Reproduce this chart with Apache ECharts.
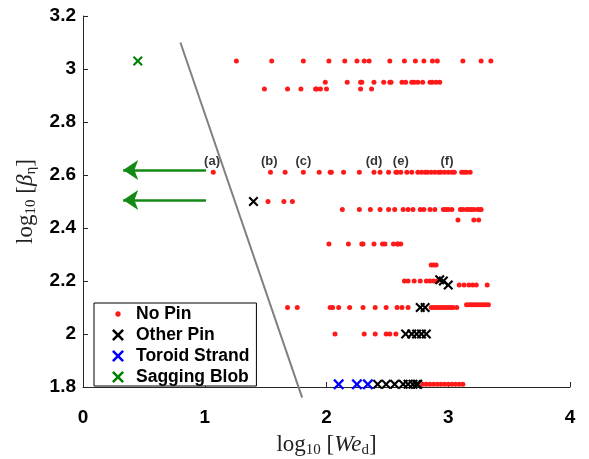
<!DOCTYPE html>
<html>
<head>
<meta charset="utf-8">
<script src="https://cdn.jsdelivr.net/npm/echarts@6/dist/echarts.min.js"></script>
<style>
  html, body { margin: 0; padding: 0; background: #fff; }
  #chart { width: 589px; height: 459px; }
</style>
</head>
<body>
<div id="chart"></div>
<script>
// rows of "No Pin" points: [log10 beta, [log10 We ...]]
const noPinRows = [
  [3.03, [1.26, 1.55, 1.81, 2.02, 2.15, 2.25, 2.31, 2.35, 2.52, 2.64, 2.73, 2.80, 2.87, 2.91, 3.12, 3.27, 3.35]],
  [2.95, [1.99, 2.17, 2.28, 2.29, 2.39, 2.47, 2.52, 2.53, 2.62, 2.65, 2.70, 2.72, 2.75, 2.79, 2.85, 2.87, 2.90, 2.93]],
  [2.925, [1.49, 1.68, 1.79, 1.91, 1.92, 1.95, 2.00, 2.28, 2.37]],
  [2.61, [1.07, 1.54, 1.66, 1.81, 1.94, 2.03, 2.04, 2.14, 2.27, 2.39, 2.44, 2.51, 2.57, 2.58, 2.61, 2.66, 2.70, 2.75, 2.78, 2.81, 2.83, 2.86, 2.89, 2.92, 2.94, 2.97, 3.00, 3.03, 3.05, 3.11, 3.13, 3.15, 3.18]],
  [2.50, [1.52, 1.65, 1.72]],
  [2.47, [2.13, 2.27, 2.36, 2.44, 2.51, 2.56, 2.63, 2.67, 2.71, 2.77, 2.80, 2.85, 2.89, 2.96, 2.98, 3.00, 3.03, 3.10, 3.12, 3.15, 3.17, 3.19, 3.21, 3.24, 3.26, 3.27]],
  [2.43, [3.08, 3.21, 3.25]],
  [2.34, [2.02, 2.18, 2.29, 2.30, 2.39, 2.46, 2.48, 2.55, 2.58, 2.59, 2.61]],
  [2.26, [2.86, 2.88, 2.90]],
  [2.20, [2.64, 2.67, 2.72, 2.77, 2.82, 2.85, 2.88, 2.91]],
  [2.185, [3.09, 3.13, 3.17, 3.20, 3.23, 3.32]],
  [2.11, [3.15, 3.17, 3.19, 3.21, 3.23, 3.25, 3.27, 3.29, 3.31, 3.33]],
  [2.10, [1.68, 1.76, 2.03, 2.05, 2.10, 2.19, 2.30, 2.40, 2.49, 2.58, 2.62, 2.67, 2.86, 2.88, 2.90, 2.92, 2.94, 2.96, 2.98, 3.00, 3.02, 3.04, 3.07]],
  [2.00, [2.07, 2.31, 2.40, 2.49, 2.52, 2.57]],
  [1.81, [2.79, 2.82, 2.85, 2.88, 2.91, 2.94, 2.97, 3.00, 3.03, 3.06, 3.09, 3.12]]
]
const otherPin = [
  [1.40, 2.50],
  [2.93, 2.205], [2.96, 2.20], [3.00, 2.185],
  [2.77, 2.10], [2.81, 2.10],
  [2.65, 2.00], [2.70, 2.00], [2.74, 2.00], [2.78, 2.00], [2.82, 2.00],
  [2.42, 1.81], [2.49, 1.81], [2.56, 1.81], [2.63, 1.81], [2.67, 1.81], [2.71, 1.81], [2.74, 1.81], [2.75, 1.81]
]
const toroidStrand = [[2.10, 1.81], [2.25, 1.81], [2.34, 1.81]]
const saggingBlob = [[0.45, 3.03]]
// boundary line and arrows
const boundary = [[0.80, 3.10], [1.80, 1.76]]
const arrows = [
  [[1.01, 2.619], [0.33, 2.619]],
  [[1.01, 2.506], [0.33, 2.506]]
]
const caseLabels = ['(a)', '(b)', '(c)', '(d)', '(e)', '(f)']
const caseX = [1.06, 1.53, 1.81, 2.39, 2.61, 2.99]
const caseY = 2.65

const noPin = []
noPinRows.forEach(r => r[1].forEach(x => noPin.push([x, r[0]])))

const cross = 'path://M0,1.5L1.5,0L5,3.5L8.5,0L10,1.5L6.5,5L10,8.5L8.5,10L5,6.5L1.5,10L0,8.5L3.5,5Z'
// small dot with tiny corner points so the legend icon stays small
const dotIcon = 'path://M0,0L0.01,0L0,0.01Z M5,2.8A2.2,2.2,0,1,1,5,7.2A2.2,2.2,0,1,1,5,2.8Z M10,10L9.99,10L10,9.99Z'

const tickFont = { color: '#000', fontWeight: 'bold', fontSize: 19, fontFamily: 'Liberation Sans' }
const nameRich = {
  n: { fontFamily: 'Liberation Serif', fontSize: 23, color: '#222' },
  i: { fontFamily: 'Liberation Serif', fontStyle: 'italic', fontSize: 23, color: '#222' },
  s: { fontFamily: 'Liberation Serif', fontSize: 15, color: '#222', padding: [11, 0, 0, 0] }
}

const myChart = echarts.init(document.getElementById('chart'))
myChart.setOption({
  animation: false,
  grid: { left: 83, right: 19, top: 16, bottom: 72, outerBoundsMode: 'none', containLabel: false },
  legend: {
    orient: 'vertical',
    left: 94,
    top: 303,
    padding: [2, 7, 0, 18],
    itemWidth: 26,
    itemHeight: 12,
    itemGap: 3,
    borderColor: '#000',
    borderWidth: 1,
    backgroundColor: '#fff',
    textStyle: { color: '#000', fontWeight: 'bold', fontSize: 17.5, lineHeight: 17, fontFamily: 'Liberation Sans' },
    data: [
      { name: 'No Pin', icon: dotIcon },
      { name: 'Other Pin', icon: cross },
      { name: 'Toroid Strand', icon: cross },
      { name: 'Sagging Blob', icon: cross }
    ]
  },
  xAxis: {
    type: 'value',
    min: 0,
    max: 4,
    interval: 1,
    name: '{n|log}{s|10}{n| [}{i|We}{s|d}{n|]}',
    nameLocation: 'middle',
    nameGap: 45,
    nameTextStyle: { rich: nameRich },
    axisLine: { lineStyle: { color: '#262626', width: 1 } },
    axisTick: { inside: true, length: 5, lineStyle: { color: '#262626' } },
    axisLabel: Object.assign({ margin: 21 }, tickFont),
    splitLine: { show: false }
  },
  yAxis: {
    type: 'value',
    min: 1.8,
    max: 3.2,
    interval: 0.2,
    name: '{n|log}{s|10}{n| [}{i|β}{s|η}{n|]}',
    nameLocation: 'middle',
    nameGap: 42,
    nameTextStyle: { rich: nameRich },
    axisLine: { show: true, lineStyle: { color: '#262626', width: 1 } },
    axisTick: { show: true, inside: true, length: 5, lineStyle: { color: '#262626' } },
    axisLabel: Object.assign({ margin: 7 }, tickFont),
    splitLine: { show: false }
  },
  series: [
    {
      name: 'boundary',
      type: 'line',
      data: boundary,
      clip: false,
      symbol: 'none',
      lineStyle: { color: '#808080', width: 2 },
      silent: true
    },
    {
      name: 'arrows',
      type: 'lines',
      coordinateSystem: 'cartesian2d',
      data: arrows.map(a => ({ coords: a })),
      symbol: ['none', 'arrow'],
      symbolSize: [12, 15],
      lineStyle: { color: '#138a13', width: 2.5, opacity: 1 },
      silent: true
    },
    {
      name: 'labels',
      type: 'scatter',
      data: caseLabels.map((t, i) => ({ name: t, value: [caseX[i], caseY] })),
      symbolSize: 0,
      label: {
        show: true,
        position: 'inside',
        formatter: p => p.name,
        color: '#000',
        fontWeight: 'bold',
        fontSize: 13,
        fontFamily: 'Liberation Sans'
      },
      silent: true
    },
    {
      name: 'No Pin',
      type: 'scatter',
      data: noPin,
      symbol: 'circle',
      symbolSize: 5,
      itemStyle: { color: '#ff1a1a', opacity: 1 }
    },
    {
      name: 'Other Pin',
      type: 'scatter',
      data: otherPin,
      symbol: cross,
      symbolSize: 10,
      itemStyle: { color: '#000', opacity: 1 }
    },
    {
      name: 'Toroid Strand',
      type: 'scatter',
      data: toroidStrand,
      symbol: cross,
      symbolSize: 11,
      itemStyle: { color: '#0000ff', opacity: 1 }
    },
    {
      name: 'Sagging Blob',
      type: 'scatter',
      data: saggingBlob,
      symbol: cross,
      symbolSize: 10,
      itemStyle: { color: '#008000', opacity: 1 }
    }
  ]
})
window.addEventListener('resize', () => myChart.resize())
</script>
</body>
</html>
